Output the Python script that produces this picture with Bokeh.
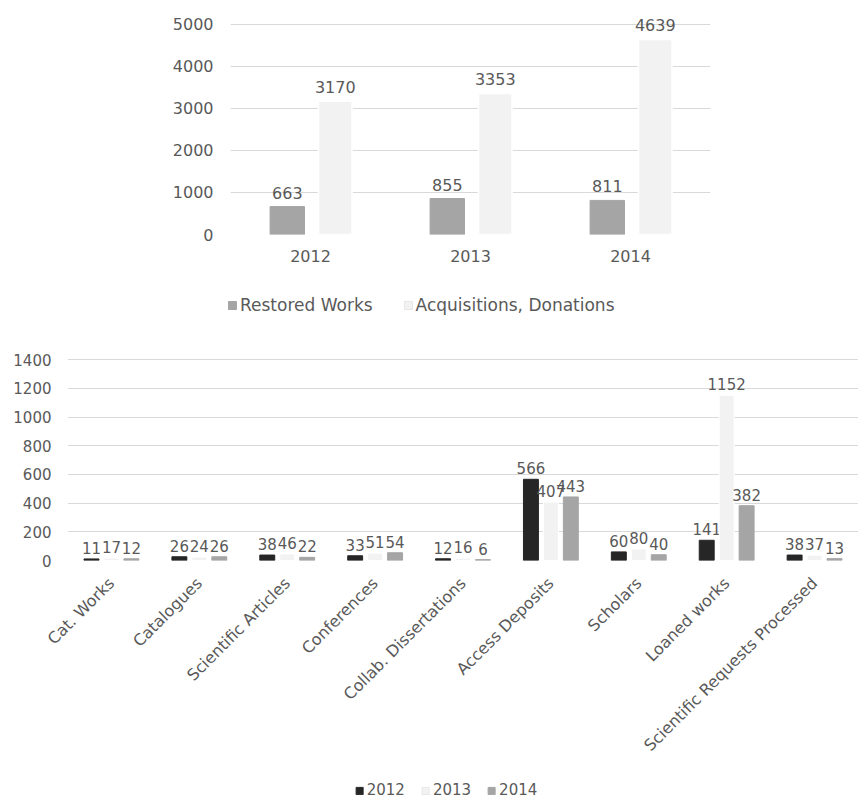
import math
from bokeh.plotting import figure
from bokeh.models import (ColumnDataSource, FactorRange, Range1d, FixedTicker,
                          Legend, LegendItem)
from bokeh.transform import dodge
from bokeh.core.properties import value
from bokeh.embed import file_html
from bokeh.resources import INLINE

# ---------------- data ----------------
years = ["2012", "2013", "2014"]
restored = [663, 855, 811]
acquisitions = [3170, 3353, 4639]
top_series = ["Restored Works", "Acquisitions, Donations"]
top_ticks = [0, 1000, 2000, 3000, 4000, 5000]

categories = ["Cat. Works", "Catalogues", "Scientific Articles", "Conferences",
              "Collab. Dissertations", "Access Deposits", "Scholars",
              "Loaned works", "Scientific Requests Processed"]
v2012 = [11, 26, 38, 33, 12, 566, 60, 141, 38]
v2013 = [17, 24, 46, 51, 16, 407, 80, 1152, 37]
v2014 = [12, 26, 22, 54, 6, 443, 40, 382, 13]
bottom_ticks = [0, 200, 400, 600, 800, 1000, 1200, 1400]

FONT = "DejaVu Sans"
TXT = "#595959"
GRID = "#d9d9d9"
TOP_FILL = ["#a5a5a5", "#f2f2f2"]
TOP_LINE = ["#a5a5a5", "#ffffff"]
BOT_FILL = ["#262626", "#f2f2f2", "#a5a5a5"]
BOT_LINE = ["#262626", "#ffffff", "#a5a5a5"]

def style(p, fs):
    p.outline_line_color = None
    p.xgrid.grid_line_color = None
    p.ygrid.grid_line_color = GRID
    p.ygrid.grid_line_width = 1
    for ax in (p.xaxis, p.yaxis):
        ax.axis_line_color = None
        ax.major_tick_line_color = None
        ax.minor_tick_line_color = None
        ax.major_tick_out = 0
        ax.major_tick_in = 0
        ax.major_label_text_color = TXT
        ax.major_label_text_font = FONT
        ax.major_label_text_font_size = fs

def legend_figure(labels, fills, lines, left, fw, h, fs, gs, spacing, loc):
    # small strip holding only the legend (proxy glyphs lie outside its range)
    lf = figure(x_range=Range1d(0, 1), y_range=Range1d(0, 1),
                frame_width=fw, frame_height=h,
                min_border_left=left, min_border_right=0,
                min_border_top=0, min_border_bottom=0,
                output_backend="svg", toolbar_location=None)
    lf.axis.visible = False
    lf.grid.visible = False
    lf.outline_line_color = None
    items = []
    for lab, fc, lc in zip(labels, fills, lines):
        r = lf.vbar(x=[5], top=[1], width=0.1, fill_color=fc, line_color=lc)
        items.append(LegendItem(label=lab, renderers=[r]))
    lg = Legend(items=items, orientation="horizontal", location=loc)
    lg.label_text_font = FONT
    lg.label_text_font_size = fs
    lg.label_text_color = TXT
    lg.glyph_width = gs
    lg.glyph_height = gs
    lg.label_standoff = 3
    lg.padding = 0
    lg.margin = 0
    lg.spacing = spacing
    lg.border_line_color = None
    lg.background_fill_alpha = 0
    lf.add_layout(lg, "center")
    return lf

# ---------------- top chart ----------------
src1 = ColumnDataSource(dict(
    year=years, restored=restored, acquisitions=acquisitions,
    rl=[str(v) for v in restored], al=[str(v) for v in acquisitions]))

p1 = figure(x_range=FactorRange(*years), y_range=Range1d(0, 5350),
            frame_width=480, frame_height=225,
            min_border_left=230, min_border_right=148,
            min_border_top=9, min_border_bottom=56,
            output_backend="svg", toolbar_location=None)
style(p1, "16px")
p1.yaxis.ticker = FixedTicker(ticks=top_ticks)
p1.yaxis.major_label_standoff = 17
p1.xaxis.major_label_standoff = 15

for i, (col, lab, d, w) in enumerate([("restored", "rl", -0.145, 0.215),
                                      ("acquisitions", "al", 0.155, 0.21)]):
    p1.vbar(x=dodge("year", d, range=p1.x_range), top=col, width=w,
            source=src1, fill_color=TOP_FILL[i], line_color=TOP_LINE[i],
            line_width=1.5 if i == 1 else 1)
    p1.text(x=dodge("year", d, range=p1.x_range), y=col, text=lab,
            source=src1, text_align="center", text_baseline="alphabetic",
            y_offset=-14, text_font=value(FONT), text_font_size="16px",
            text_color=TXT)

leg1 = legend_figure(top_series, TOP_FILL, ["#a5a5a5", "#e6e6e6"], left=227,
                     fw=631, h=30, fs="17px", gs=10, spacing=30, loc="left")

# ---------------- bottom chart ----------------
src2 = ColumnDataSource(dict(
    cat=categories, a=v2012, b=v2013, c=v2014,
    al=[str(v) for v in v2012], bl=[str(v) for v in v2013],
    cl=[str(v) for v in v2014]))

p2 = figure(x_range=FactorRange(*categories), y_range=Range1d(0, 1450),
            frame_width=791, frame_height=208,
            min_border_left=67, min_border_right=0,
            min_border_top=32, min_border_bottom=217,
            output_backend="svg", toolbar_location=None)
style(p2, "15px")
p2.xaxis.major_label_text_font_size = "16px"
p2.yaxis.ticker = FixedTicker(ticks=bottom_ticks)
p2.yaxis.major_label_standoff = 16
p2.xaxis.major_label_standoff = 20
p2.xaxis.major_label_orientation = math.pi / 4

off = 0.227
bw = 0.17
for i, (key, lab, d) in enumerate([("a", "al", -off), ("b", "bl", 0.0),
                                   ("c", "cl", off)]):
    p2.vbar(x=dodge("cat", d, range=p2.x_range), top=key, width=bw,
            source=src2, fill_color=BOT_FILL[i], line_color=BOT_LINE[i])
    p2.text(x=dodge("cat", d, range=p2.x_range), y=key, text=lab, source=src2,
            text_align="center", text_baseline="alphabetic", y_offset=-11,
            text_font=value(FONT), text_font_size="15px", text_color=TXT)

leg2 = legend_figure(years, BOT_FILL, ["#262626", "#e6e6e6", "#a5a5a5"],
                     left=34, fw=824, h=26, fs="15px", gs=9, spacing=16,
                     loc="center")

open("out.html", "w").write(file_html([p1, leg1, p2, leg2], INLINE))
